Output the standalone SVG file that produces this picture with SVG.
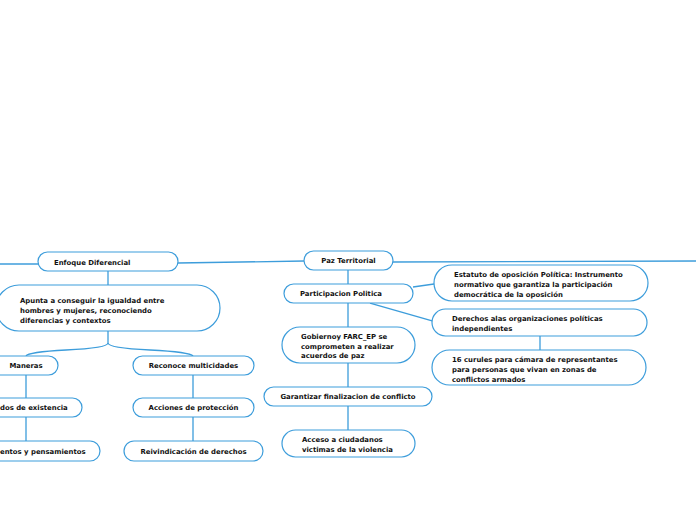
<svg xmlns="http://www.w3.org/2000/svg" width="696" height="520" viewBox="0 0 696 520">
<style>
.n{fill:#fff;stroke:#3d9ddb;stroke-width:1.2}
.c{fill:none;stroke:#3d9ddb;stroke-width:1.3}
text{font-family:"DejaVu Sans",Verdana,sans-serif;font-weight:bold;font-size:6.9px;fill:#111}
.m{text-anchor:middle}
</style>
<rect width="696" height="520" fill="#fff"/>
<g id="connectors">
<path class="c" d="M0,264 L38,264"/>
<path class="c" d="M178,263 L304,261"/>
<path class="c" d="M393,262 L696,261"/>
<path class="c" d="M108,271 V285"/>
<path class="c" d="M108,331 V343 Q108,348 66,350 Q28,352 26,356"/>
<path class="c" d="M108,343 Q108,348 150,350 Q190,352 193,356"/>
<path class="c" d="M26,375 V398 M26,417 V441"/>
<path class="c" d="M193,375 V398 M193,417 V441"/>
<path class="c" d="M348,270 V284"/>
<path class="c" d="M413,287 L434,284"/>
<path class="c" d="M370,303 L433,321"/>
<path class="c" d="M540,336 V350"/>
<path class="c" d="M348,303 V327 M348,363 V387 M348,406 V430"/>
</g>
<g id="enfoque"><rect class="n" x="38" y="252" width="140" height="19" rx="9.5"/><text x="54" y="264.5">Enfoque Diferencial</text></g>
<g id="apunta"><rect class="n" x="-4" y="285" width="224" height="46" rx="23"/><text x="20" y="303">Apunta a conseguir la igualdad entre</text><text x="20" y="313">hombres y mujeres, reconociendo</text><text x="20" y="323">diferencias y contextos</text></g>
<g id="maneras"><rect class="n" x="-12" y="356" width="70" height="19" rx="9.5"/><text class="m" x="26" y="368">Maneras</text></g>
<g id="reconoce"><rect class="n" x="133" y="356" width="121" height="19" rx="9.5"/><text class="m" x="193.5" y="368">Reconoce multicidades</text></g>
<g id="modos"><rect class="n" x="-30" y="398" width="112" height="19" rx="9.5"/><text x="0" y="410">dos de existencia</text></g>
<g id="acciones"><rect class="n" x="133" y="398" width="121" height="19" rx="9.5"/><text class="m" x="193.5" y="410">Acciones de protección</text></g>
<g id="sentimientos"><rect class="n" x="-30" y="441" width="130" height="20" rx="10"/><text x="0" y="453.5">entos y pensamientos</text></g>
<g id="reivindicacion"><rect class="n" x="124" y="441" width="139" height="20" rx="10"/><text class="m" x="193.5" y="453.5">Reivindicación de derechos</text></g>
<g id="paz"><rect class="n" x="304" y="251" width="89" height="19" rx="9.5"/><text class="m" x="348.5" y="263">Paz Territorial</text></g>
<g id="participacion"><rect class="n" x="284" y="284" width="129" height="19" rx="9.5"/><text x="300" y="296">Participacion Politica</text></g>
<g id="estatuto"><rect class="n" x="434" y="265" width="214" height="36" rx="18"/><text x="454" y="277">Estatuto de oposición Política: Instrumento</text><text x="454" y="287">normativo que garantiza la participación</text><text x="454" y="297">democrática de la oposición</text></g>
<g id="derechos"><rect class="n" x="432" y="309" width="215" height="27" rx="13.5"/><text x="452" y="321">Derechos alas organizaciones políticas</text><text x="452" y="331">independientes</text></g>
<g id="curules"><rect class="n" x="432" y="350" width="214" height="35" rx="17.5"/><text x="452" y="362">16 curules para cámara de representantes</text><text x="452" y="372">para personas que vivan en zonas de</text><text x="452" y="382">conflictos armados</text></g>
<g id="gobierno"><rect class="n" x="282" y="327" width="133" height="36" rx="18"/><text x="301" y="339">Gobiernoy FARC_EP se</text><text x="301" y="348.5">comprometen a realizar</text><text x="301" y="358">acuerdos de paz</text></g>
<g id="garantizar"><rect class="n" x="264" y="387" width="168" height="19" rx="9.5"/><text class="m" x="348" y="399">Garantizar finalizacion de conflicto</text></g>
<g id="acceso"><rect class="n" x="282" y="430" width="133" height="27" rx="13.5"/><text x="302" y="442">Acceso a ciudadanos</text><text x="302" y="451.5">victimas de la violencia</text></g>
</svg>
